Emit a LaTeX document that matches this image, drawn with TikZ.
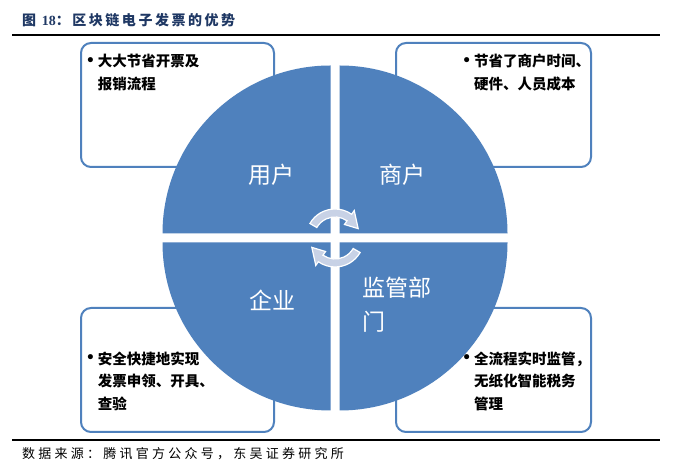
\documentclass[tikz,border=0pt]{standalone}
\usepackage{fontspec}
\newfontfamily\cjk{Noto Sans CJK SC}
\newfontfamily\cjktitle[LetterSpace=18]{Noto Sans CJK SC}
\newfontfamily\cjksource[LetterSpace=25]{Noto Sans CJK SC}
\newfontfamily\latinserif{Liberation Serif}
\newfontfamily\bulletfont{DejaVu Sans}
\usetikzlibrary{positioning}
\definecolor{bcblue}{HTML}{4F81BD}
\definecolor{bcarrow}{HTML}{C8D2E6}
\definecolor{bctitle}{HTML}{1F3864}
\newcommand{\bcpoint}{\makebox[12pt][l]{\raisebox{1.5pt}{\bulletfont •}}}

\begin{document}
\begin{tikzpicture}[x=1pt, y=1pt,
    infobox/.style={draw=bcblue, line width=2pt, fill=white, rounded corners=10pt,
                    inner sep=0pt, minimum height=124pt},
    quarter/.style={fill=bcblue},
    quartertext/.style={text=white, inner sep=0pt, font=\fontsize{23}{34}\selectfont\cjk},
    infotext/.style={anchor=base west, inner sep=0pt,
                     font=\fontsize{14.5}{22.5}\selectfont\cjk\bfseries},
    cyclearrow/.style={fill=bcarrow, draw=white, line width=1.2pt}]
  \fill[white] (0,0) rectangle (676,470);
  \useasboundingbox (0,0) rectangle (676,470);

  \node[text=bctitle, anchor=base west, inner sep=0pt,
        font=\fontsize{14}{16}\selectfont\cjktitle\bfseries] (title) at (22,444.7)
        {图 {\latinserif\bfseries 18}：区块链电子发票的优势};
  \draw[line width=1.6pt] (12,435) -- (660,435);
  \draw[line width=1.3pt] (12,30) -- (660,30);
  \node[anchor=base west, inner sep=0pt, font=\fontsize{13}{15}\selectfont\cjksource] (source) at (22,11)
        {数据来源：腾讯官方公众号，东吴证券研究所};

  \node[infobox, minimum width=193pt] (yonghubox) at (177.5,365) {};
  \node[infobox, minimum width=195pt] (shanghubox) at (493.5,365) {};
  \node[infobox, minimum width=193pt] (qiyebox) at (177.5,100) {};
  \node[infobox, minimum width=195pt] (jianguanbox) at (493.5,100) {};

  \fill[quarter] (330.5,236.5) -- ++(-168,0) arc[start angle=180, end angle=90, radius=168] -- cycle;
  \fill[quarter] (339.5,236.5) -- ++(0,168) arc[start angle=90, end angle=0, radius=168] -- cycle;
  \fill[quarter] (330.5,227.5) -- ++(0,-168) arc[start angle=270, end angle=180, radius=168] -- cycle;
  \fill[quarter] (339.5,227.5) -- ++(168,0) arc[start angle=0, end angle=-90, radius=168] -- cycle;

  \node[quartertext] (yonghu) at (271,295) {用户};
  \node[quartertext] (shanghu) at (402,295) {商户};
  \node[quartertext] (qiye) at (272,170) {企业};
  \node[quartertext, anchor=base west] (jianguan) at (362,173.3)
        {\begin{tabular}[t]{@{}l@{}}监管部\\门\end{tabular}};

  \begin{scope}[shift={(335,232)}]
    \foreach \turn in {0,180}
      \path[cyclearrow, rotate=\turn] (150:29) arc[start angle=150, end angle=55, radius=29]
        -- (55:33.5) -- (22:25) -- (55:16.5) -- (55:21)
        arc[start angle=55, end angle=150, radius=21] -- cycle;
  \end{scope}

  \node[infotext] (yonghutext) at (85.7,403)
        {\begin{tabular}[t]{@{}l@{}l@{}}\bcpoint&大大节省开票及\\&报销流程\end{tabular}};
  \node[infotext] (shanghutext) at (462,403)
        {\begin{tabular}[t]{@{}l@{}l@{}}\bcpoint&节省了商户时间、\\&硬件、人员成本\end{tabular}};
  \node[infotext] (qiyetext) at (85.7,105.7)
        {\begin{tabular}[t]{@{}l@{}l@{}}\bcpoint&安全快捷地实现\\&发票申领、开具、\\&查验\end{tabular}};
  \node[infotext] (jianguantext) at (462,105.7)
        {\begin{tabular}[t]{@{}l@{}l@{}}\bcpoint&全流程实时监管，\\&无纸化智能税务\\&管理\end{tabular}};
\end{tikzpicture}
\end{document}
